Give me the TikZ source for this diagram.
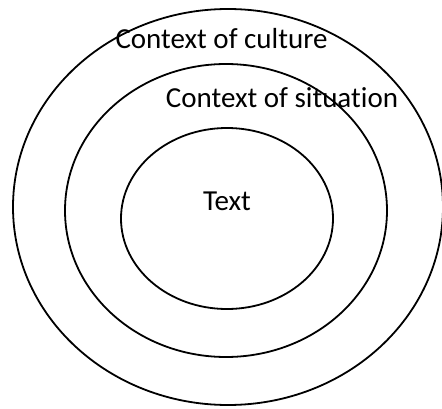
\documentclass[tikz,border=0pt]{standalone}
\usepackage{fontspec}
\setmainfont{Carlito}[Ligatures=NoCommon]
\usetikzlibrary{shapes.geometric}
\tikzset{
  ctx ring/.style={ellipse,draw,line width=1.8pt,inner sep=0pt},
  ctx label/.style={anchor=base,inner sep=0pt,font=\fontsize{29}{34}\selectfont}
}
\begin{document}
\begin{tikzpicture}[x=1pt,y=1pt]
  \useasboundingbox (0,0) rectangle (442,408);
  % nested rings
  \node[ctx ring,minimum width=430pt,minimum height=396pt] (culture) at (228,201) {};
  \node[ctx ring,minimum width=322pt,minimum height=293pt] (situation) at (226,197.5) {};
  \node[ctx ring,minimum width=212pt,minimum height=181pt] (text) at (227,189.5) {};
  % labels
  \node[ctx label] (culture label) at (221.5,359) {Context of culture};
  \node[ctx label] (situation label) at (282,301) {Context of situation};
  \node[ctx label] (text label) at (227,198) {Text};
\end{tikzpicture}
\end{document}
